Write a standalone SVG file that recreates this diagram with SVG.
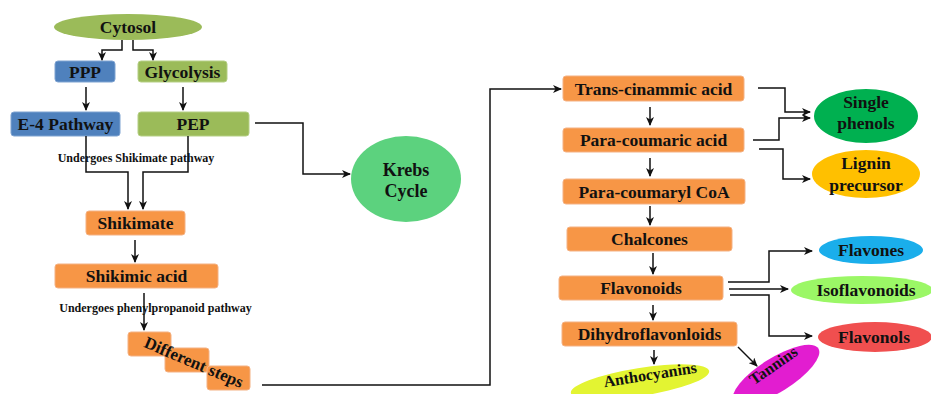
<svg xmlns="http://www.w3.org/2000/svg" width="931" height="394" viewBox="0 0 931 394">
<defs>
<marker id="ah" markerUnits="userSpaceOnUse" markerWidth="9" markerHeight="8" refX="8" refY="4" orient="auto">
<path d="M0,0 L9,4 L0,8 L2.5,4 Z" fill="#111"/>
</marker>
<style>
.t{font-family:"Liberation Serif","Times New Roman",serif;font-weight:bold;fill:#111;text-anchor:middle}
.b16{font-size:17.5px}
.s{font-size:12px}
.or{fill:#F79646;stroke:#F4B183;stroke-width:1}
.bl{fill:#4F81BD;stroke:#7FA3D1;stroke-width:1}
.gr{fill:#9BBB59;stroke:#B5CF85;stroke-width:1}
.c path,.c line{fill:none;stroke:#111;stroke-width:1.5;marker-end:url(#ah)}
</style>
</defs>
<rect width="931" height="394" fill="#fff"/>

<g id="cytosol"><ellipse cx="128" cy="27" rx="74" ry="13" fill="#9BBB59"/><text class="t" x="128" y="33" font-size="17.5">Cytosol</text></g>
<g id="ppp"><rect class="bl" x="55" y="61" width="60" height="21" rx="3"/><text class="t b16" x="85" y="77.5">PPP</text></g>
<g id="glycolysis"><rect class="gr" x="138" y="61" width="89" height="21" rx="3"/><text class="t b16" x="182.5" y="77.5">Glycolysis</text></g>
<g id="e4"><rect class="bl" x="11" y="112" width="109" height="24" rx="3"/><text class="t b16" x="65.5" y="130">E-4 Pathway</text></g>
<g id="pep"><rect class="gr" x="138" y="112" width="111" height="24" rx="3"/><text class="t b16" x="193" y="130">PEP</text></g>
<g id="krebs"><ellipse cx="406" cy="179" rx="55" ry="43" fill="#5CD27E"/><text class="t" x="406" y="176" font-size="18">Krebs</text><text class="t" x="406" y="197" font-size="18">Cycle</text></g>
<g id="lbl1"><text class="t s" x="136" y="162">Undergoes Shikimate pathway</text></g>
<g id="shikimate"><rect class="or" x="86" y="211" width="99" height="24" rx="3"/><text class="t b16" x="135.5" y="229">Shikimate</text></g>
<g id="shikimic"><rect class="or" x="55" y="264" width="163" height="24" rx="3"/><text class="t b16" x="136.5" y="282">Shikimic acid</text></g>
<g id="lbl2"><text class="t s" x="155.5" y="312">Undergoes phenylpropanoid pathway</text></g>
<g id="steps">
<rect class="or" x="128" y="332" width="43" height="24" rx="3"/>
<rect class="or" x="165" y="348" width="44" height="24" rx="3"/>
<rect class="or" x="207" y="366" width="43" height="24" rx="3"/>
<text class="t" x="194" y="368" font-size="17" transform="rotate(23 194 362)">Different steps</text>
</g>

<g id="trans"><rect class="or" x="563" y="76" width="181" height="25" rx="3"/><text class="t b16" x="653.5" y="94.5">Trans-cinammic acid</text></g>
<g id="paracoumaric"><rect class="or" x="563" y="128" width="181" height="24" rx="3"/><text class="t b16" x="653.5" y="146">Para-coumaric acid</text></g>
<g id="coa"><rect class="or" x="563" y="179" width="182" height="25" rx="3"/><text class="t b16" x="654" y="197.5">Para-coumaryl CoA</text></g>
<g id="chalcones"><rect class="or" x="567" y="227" width="165" height="24" rx="3"/><text class="t b16" x="649.5" y="245">Chalcones</text></g>
<g id="flavonoids"><rect class="or" x="559" y="276" width="164" height="24" rx="3"/><text class="t b16" x="641" y="294">Flavonoids</text></g>
<g id="dihydro"><rect class="or" x="562" y="322" width="175" height="24" rx="3"/><text class="t b16" x="649.5" y="340">Dihydroflavonloids</text></g>

<g id="single"><ellipse cx="866" cy="116" rx="52" ry="27" fill="#00B050"/><text class="t b16" x="866" y="108">Single</text><text class="t b16" x="866" y="129">phenols</text></g>
<g id="lignin"><ellipse cx="866" cy="174" rx="54" ry="24" fill="#FFC000"/><text class="t b16" x="866" y="169">Lignin</text><text class="t b16" x="866" y="191">precursor</text></g>
<g id="flavones"><ellipse cx="871" cy="250" rx="52" ry="14" fill="#1AAEEB"/><text class="t b16" x="871" y="256">Flavones</text></g>
<g id="isoflavonoids"><ellipse cx="862" cy="290" rx="71" ry="14" fill="#9BF766"/><text class="t b16" x="866" y="296">Isoflavonoids</text></g>
<g id="flavonols"><ellipse cx="875" cy="337" rx="57" ry="15" fill="#F04F4F"/><text class="t b16" x="874" y="343">Flavonols</text></g>
<g id="anthocyanins"><ellipse cx="640" cy="382" rx="70" ry="14" fill="#E3F432" transform="rotate(-9 640 382)"/><text class="t" font-size="16" x="650" y="380" transform="rotate(-9 650 374)">Anthocyanins</text></g>
<g id="tannins"><ellipse cx="776" cy="375" rx="50" ry="17" fill="#E21DD0" transform="rotate(-32 776 375)"/><text class="t" font-size="16" x="773" y="371" transform="rotate(-35 773 365)">Tannins</text></g>

<g id="connectors" class="c">
<path d="M122 40 V50 H102 V60"/>
<path d="M133 40 V50 H153 V60"/>
<path d="M86 87 V110"/>
<path d="M183 87 V110"/>
<path d="M255 123 H303 V174 H350"/>
<path d="M86 136 V172 H128 V209"/>
<path d="M188 136 V172 H143 V209"/>
<path d="M135 240 V262"/>
<path d="M144 293 V330"/>
<path d="M262 385 H490 V89 H561"/>
<path d="M650 107 V125"/>
<path d="M650 158 V176"/>
<path d="M650 206 V225"/>
<path d="M653 253 V274"/>
<path d="M653 305 V320"/>
<path d="M654 350 V364"/>
<path d="M738 347 L757 366"/>
<path d="M758 88 H785 V112 H810"/>
<path d="M753 140 H779 V118 H810"/>
<path d="M759 149 H783 V179 H810"/>
<path d="M728 282 H769 V251 H812"/>
<path d="M729 289 H788"/>
<path d="M730 295 H769 V336 H812"/>
</g>
</svg>
